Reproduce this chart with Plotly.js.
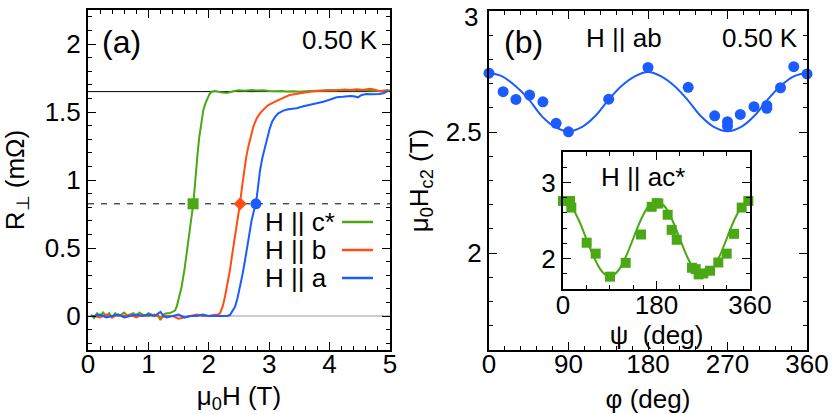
<!DOCTYPE html>
<html>
<head>
<meta charset="utf-8">
<script src="https://cdn.plot.ly/plotly-3.0.1.min.js"></script>
<style>html,body{margin:0;padding:0;background:#fff;}#chart{width:832px;height:414px;}</style>
</head>
<body>
<div id="chart"></div>
<script>
// ---------- Panel (a): R_perp vs mu0H ----------
const cStarH = [0.05,0.1,0.15,0.2,0.25,0.3,0.35,0.4,0.45,0.5,0.55,0.6,0.65,0.7,0.75,0.8,0.85,0.9,0.95,1.0,1.05,1.1,1.15,1.2,1.25,1.3,1.35,1.4,1.44,1.47,1.52,1.55,1.6,1.634,1.67,1.70,1.73,1.744,1.77,1.788,1.815,1.843,1.875,1.91,1.945,1.975,2.01,2.048,2.1,2.2,2.3,2.4,2.5,2.6,2.7,2.8,2.9,3.0,3.1,3.2,3.3,3.4,3.5,3.6,3.7,3.8,3.9,4.0,4.1,4.2,4.3,4.4,4.5,4.6,4.7,4.8,4.9,5.0];
const cStarR = [0.01,-0.015,0.02,0.0,0.025,0.0,0.02,-0.01,0.02,0.0,0.01,0.025,0.0,0.01,0.02,0.0,0.025,0.01,0.0,0.02,0.01,0.0,0.01,-0.03,0.01,0.02,0.02,0.03,0.04,0.07,0.15,0.215,0.35,0.46,0.56,0.657,0.79,0.829,0.96,1.07,1.2,1.318,1.43,1.515,1.565,1.60,1.63,1.649,1.655,1.645,1.64,1.652,1.66,1.656,1.662,1.658,1.66,1.655,1.652,1.655,1.65,1.652,1.648,1.652,1.655,1.658,1.656,1.66,1.658,1.662,1.66,1.658,1.662,1.66,1.656,1.655,1.652,1.66];

const bH = [0.05,0.1,0.2,0.3,0.4,0.5,0.6,0.7,0.8,0.9,1.0,1.1,1.2,1.3,1.4,1.5,1.55,1.6,1.7,1.8,1.9,2.0,2.1,2.15,2.185,2.23,2.268,2.31,2.35,2.39,2.434,2.475,2.517,2.55,2.583,2.62,2.654,2.69,2.737,2.79,2.848,2.92,2.985,3.08,3.18,3.26,3.34,3.45,3.565,3.7,3.84,3.98,4.12,4.25,4.35,4.45,4.55,4.67,4.75,4.83,4.9,4.97];
const bR = [0.0,0.0,-0.01,0.01,-0.01,0.01,0.0,0.01,-0.01,0.01,0.0,0.01,-0.01,0.0,0.0,-0.02,-0.015,-0.01,0.0,0.01,0.0,0.0,0.01,0.01,0.02,0.07,0.142,0.24,0.338,0.46,0.583,0.71,0.829,0.95,1.07,1.17,1.245,1.32,1.392,1.45,1.49,1.525,1.551,1.572,1.595,1.61,1.625,1.635,1.642,1.65,1.657,1.66,1.66,1.665,1.662,1.668,1.662,1.67,1.664,1.652,1.658,1.66];

const aH = [0.05,0.1,0.2,0.3,0.4,0.5,0.6,0.7,0.8,0.9,1.0,1.1,1.2,1.25,1.3,1.4,1.5,1.6,1.7,1.8,1.9,2.0,2.1,2.2,2.3,2.35,2.4,2.434,2.475,2.517,2.56,2.6,2.65,2.71,2.75,2.78,2.81,2.848,2.89,2.93,2.97,3.01,3.05,3.1,3.15,3.234,3.316,3.4,3.455,3.55,3.675,3.78,3.896,4.0,4.117,4.22,4.338,4.4,4.47,4.53,4.61,4.7,4.83,4.9,4.97];
const aR = [0.0,0.0,0.01,-0.01,0.0,0.01,-0.01,0.0,0.01,0.0,0.01,0.0,0.03,0.0,-0.01,0.0,0.01,-0.01,0.0,0.0,0.01,0.0,0.0,0.0,0.0,0.007,0.04,0.068,0.13,0.215,0.31,0.41,0.55,0.706,0.78,0.829,0.93,1.07,1.17,1.245,1.32,1.38,1.43,1.466,1.49,1.51,1.52,1.525,1.527,1.54,1.551,1.565,1.576,1.59,1.608,1.612,1.618,1.615,1.608,1.625,1.632,1.63,1.632,1.64,1.657];

const hc2Fields = [1.74, 2.52, 2.78];     // c*, b, a
const halfLevel = [0.825, 0.825, 0.825];
const normalLevel = 1.65;
const zeroLevel = 0;
const legendLabels = ['H || c*', 'H || b', 'H || a'];

// ---------- Panel (b): Hc2 vs phi (H || ab) ----------
const phiData = [0, 16, 30.5, 46, 61, 76, 90, 135.5, 180, 225.5, 255.5, 270, 270, 284.5, 300, 314.5, 314.5, 330, 345, 360];
const hc2Ab   = [2.743, 2.667, 2.635, 2.653, 2.625, 2.536, 2.501, 2.636, 2.767, 2.685, 2.567, 2.543, 2.525, 2.573, 2.605, 2.61, 2.598, 2.683, 2.77, 2.74];
const phiFit  = [0,15,30,45,60,75,90,105,120,135,150,165,180,195,210,225,240,255,270,285,300,315,330,345,360];
const hc2AbFit= [2.745,2.73,2.69,2.635,2.565,2.52,2.503,2.52,2.565,2.632,2.69,2.73,2.748,2.73,2.69,2.632,2.565,2.52,2.503,2.52,2.565,2.632,2.69,2.73,2.745];
const hc2TickVals = [2, 2.5, 3];
const hc2TickText = ['2', '2.5', '3'];

// ---------- Inset: Hc2 vs psi (H || ac*) ----------
const psiData = [0, 13.5, 16, 45.6, 62.9, 90.5, 120.7, 150.2, 170.7, 180.4, 183.5, 201.5, 209.2, 218.9, 248.4, 255.4, 261.2, 270.2, 283, 299, 315.1, 329.2, 344, 356.8];
const hc2Ac   = [2.757, 2.757, 2.67, 2.208, 2.065, 1.762, 1.944, 2.316, 2.68, 2.727, 2.723, 2.576, 2.377, 2.247, 1.879, 1.861, 1.792, 1.805, 1.84, 1.948, 2.065, 2.325, 2.67, 2.757];
const psiFit  = [0,15,30,45,60,75,90,105,120,135,150,165,180,195,210,225,240,255,270,285,300,315,330,345,360];
const hc2AcFit= [2.76,2.69,2.51,2.26,2.01,1.83,1.76,1.83,2.01,2.26,2.51,2.69,2.76,2.69,2.51,2.26,2.01,1.83,1.76,1.83,2.01,2.26,2.51,2.69,2.76];

const GREEN = '#4aa814', RED = '#ff4d14', BLUE = '#1a5cff';
const FONT = 'Liberation Sans, Arial, sans-serif';

const traces = [
  {x: cStarH, y: cStarR, type:'scatter', mode:'lines', line:{color:GREEN, width:2}, xaxis:'x', yaxis:'y'},
  {x: bH, y: bR, type:'scatter', mode:'lines', line:{color:RED, width:2}, xaxis:'x', yaxis:'y'},
  {x: aH, y: aR, type:'scatter', mode:'lines', line:{color:BLUE, width:2}, xaxis:'x', yaxis:'y'},
  {x: [hc2Fields[0]], y: [halfLevel[0]], type:'scatter', mode:'markers', marker:{symbol:'square', size:11, color:GREEN}, xaxis:'x', yaxis:'y'},
  {x: [hc2Fields[1]], y: [halfLevel[1]], type:'scatter', mode:'markers', marker:{symbol:'diamond', size:10, color:RED}, xaxis:'x', yaxis:'y'},
  {x: [hc2Fields[2]], y: [halfLevel[2]], type:'scatter', mode:'markers', marker:{symbol:'circle', size:11, color:BLUE}, xaxis:'x', yaxis:'y'},
  {x: phiFit, y: hc2AbFit, type:'scatter', mode:'lines', line:{color:BLUE, width:2, shape:'spline'}, xaxis:'x2', yaxis:'y2'},
  {x: phiData, y: hc2Ab, type:'scatter', mode:'markers', marker:{symbol:'circle', size:11, color:BLUE}, xaxis:'x2', yaxis:'y2', cliponaxis:false},
  {x: psiFit, y: hc2AcFit, type:'scatter', mode:'lines', line:{color:GREEN, width:2, shape:'spline'}, xaxis:'x3', yaxis:'y3'},
  {x: psiData, y: hc2Ac, type:'scatter', mode:'markers', marker:{symbol:'square', size:10, color:GREEN}, xaxis:'x3', yaxis:'y3', cliponaxis:false}
];

function axisBase(extra) {
  return Object.assign({
    showline:true, linewidth:2, linecolor:'#000', mirror:'allticks',
    ticks:'inside', ticklen:8, tickwidth:1, tickcolor:'#000',
    showgrid:false, zeroline:false,
    tickfont:{family:FONT, size:26, color:'#000'}
  }, extra);
}
const TF = {family:FONT, size:26, color:'#000'};

const layout = {
  width:832, height:414,
  margin:{l:0, r:0, t:0, b:0},
  paper_bgcolor:'#fff', plot_bgcolor:'#fff',
  showlegend:false,
  font:{family:FONT, size:26, color:'#000'},
  xaxis: axisBase({domain:[88/832, 390/832], range:[0,5], dtick:1, tick0:0, anchor:'y', ticklabelstandoff:-10,
    minor:{ticks:'inside', ticklen:4, dtick:0.2, tick0:0, tickcolor:'#000'},
    title:{text:'μ<sub>0</sub>H (T)', standoff:13, font:TF}}),
  yaxis: axisBase({domain:[1-350/414, 1-10/414], range:[-0.25,2.25], dtick:0.5, tick0:0, anchor:'x',
    minor:{ticks:'inside', ticklen:4, dtick:0.1, tick0:0, tickcolor:'#000'},
    title:{text:'R<sub>⊥</sub> (mΩ)', standoff:23, font:TF}}),
  xaxis2: axisBase({domain:[489/832, 807/832], range:[0,360], dtick:90, tick0:0, anchor:'y2', ticklabelstandoff:-10,
    minor:{ticks:'inside', ticklen:4, dtick:18, tick0:0, tickcolor:'#000'},
    title:{text:'φ (deg)', standoff:12, font:TF}}),
  yaxis2: axisBase({domain:[1-350/414, 1-11/414], range:[1.6,3.0], tickvals:hc2TickVals, ticktext:hc2TickText, anchor:'x2',
    minor:{ticks:'inside', ticklen:4, dtick:0.1, tick0:0, tickcolor:'#000'},
    title:{text:'μ<sub>0</sub>H<sub>c2</sub> (T)', standoff:10, font:TF}}),
  xaxis3: axisBase({domain:[563/832, 750/832], range:[0,360], dtick:180, tick0:0, anchor:'y3', ticklabelstandoff:-8,
    minor:{ticks:'inside', ticklen:4, dtick:45, tick0:0, tickcolor:'#000'},
    title:{text:'ψ  (deg)', standoff:0, font:TF}}),
  yaxis3: axisBase({domain:[1-289/414, 1-152/414], range:[1.6,3.4], dtick:1, tick0:0, anchor:'x3',
    minor:{ticks:'inside', ticklen:4, dtick:0.2, tick0:0, tickcolor:'#000'}}),
  shapes: [
    {type:'line', xref:'x domain', yref:'y', x0:0, x1:1, y0:normalLevel, y1:normalLevel, line:{color:'#000', width:1}, layer:'below'},
    {type:'line', xref:'x domain', yref:'y', x0:0, x1:1, y0:halfLevel[0], y1:halfLevel[0], line:{color:'#000', width:1, dash:'6px,7px'}, layer:'below'},
    {type:'line', xref:'x domain', yref:'y', x0:0, x1:1, y0:zeroLevel, y1:zeroLevel, line:{color:'#999', width:1}, layer:'below'},
    {type:'rect', xref:'paper', yref:'paper', x0:563/832, x1:750/832, y0:1-289/414, y1:1-152/414, fillcolor:'#fff', line:{width:0}, layer:'below'},
    {type:'line', xref:'paper', yref:'paper', x0:342/832, x1:373/832, y0:1-222/414, y1:1-222/414, line:{color:GREEN, width:2.5}},
    {type:'line', xref:'paper', yref:'paper', x0:342/832, x1:373/832, y0:1-250/414, y1:1-250/414, line:{color:RED, width:2.5}},
    {type:'line', xref:'paper', yref:'paper', x0:342/832, x1:373/832, y0:1-278/414, y1:1-278/414, line:{color:BLUE, width:2.5}}
  ],
  annotations: [
    // top tick label of panel (b), which Plotly drops at the very top edge of the page
    {text:hc2TickText[2], xref:'paper', yref:'paper', x:480/832, y:1, xanchor:'right', yanchor:'top', showarrow:false, font:TF},
    {text:'(a)', xref:'paper', yref:'paper', x:100/832, y:1-42/414, xanchor:'left', yanchor:'middle', showarrow:false, font:{family:FONT, size:32, color:'#000'}},
    {text:'0.50 K', xref:'paper', yref:'paper', x:380/832, y:1-40/414, xanchor:'right', yanchor:'middle', showarrow:false, font:TF},
    {text:legendLabels[0], xref:'paper', yref:'paper', x:263/832, y:1-222/414, xanchor:'left', yanchor:'middle', showarrow:false, font:TF},
    {text:legendLabels[1], xref:'paper', yref:'paper', x:263/832, y:1-250/414, xanchor:'left', yanchor:'middle', showarrow:false, font:TF},
    {text:legendLabels[2], xref:'paper', yref:'paper', x:263/832, y:1-278/414, xanchor:'left', yanchor:'middle', showarrow:false, font:TF},
    {text:'(b)', xref:'paper', yref:'paper', x:502/832, y:1-42/414, xanchor:'left', yanchor:'middle', showarrow:false, font:{family:FONT, size:32, color:'#000'}},
    {text:'H || ab', xref:'paper', yref:'paper', x:584/832, y:1-38/414, xanchor:'left', yanchor:'middle', showarrow:false, font:TF},
    {text:'0.50 K', xref:'paper', yref:'paper', x:800/832, y:1-38/414, xanchor:'right', yanchor:'middle', showarrow:false, font:TF},
    {text:'H || ac*', xref:'paper', yref:'paper', x:599/832, y:1-177/414, xanchor:'left', yanchor:'middle', showarrow:false, font:TF}
  ]
};

Plotly.newPlot('chart', traces, layout, {staticPlot:true, displayModeBar:false});
</script>
</body>
</html>
